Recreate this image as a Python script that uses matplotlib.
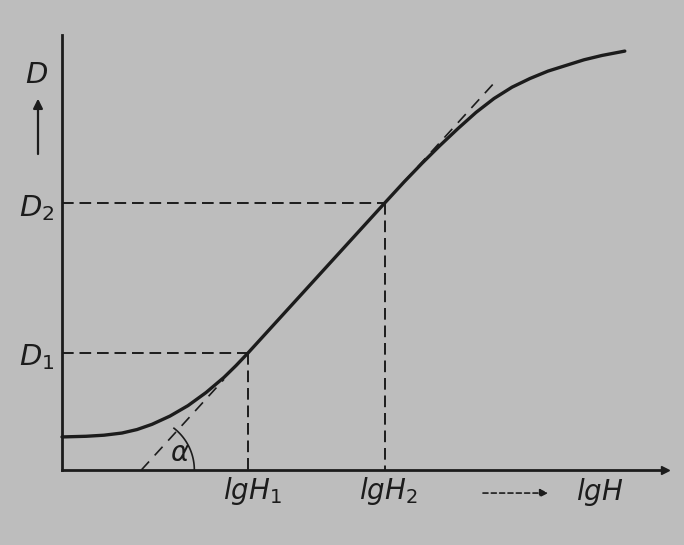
import numpy as np
import matplotlib
matplotlib.use("Agg")
import matplotlib.pyplot as plt

# ---- data (arbitrary units: lg H on x, density D on y) ----
curve_x = [0, 4, 7, 10, 12.5, 15, 18, 21, 24, 27, 29, 31.0,
           53.8, 57, 60, 63, 66, 69, 72, 75, 78, 81, 84, 87, 90, 93.8]
curve_y = [7.6, 7.75, 8.0, 8.5, 9.3, 10.5, 12.4, 14.8, 17.8, 21.3, 24.0, 26.9,
           61.4, 66.2, 70.5, 74.6, 78.5, 82.2, 85.4, 88.0, 90.0, 91.7, 93.0, 94.3, 95.3, 96.3]
lgH1, D1 = 31.0, 26.9
lgH2, D2 = 53.8, 61.4
tangent_x_lo = [13.2, 27.0]
tangent_x_hi = [57.0, 72.2]
x_max, y_max = 100.5, 100.0

BG = "#bdbdbd"
INK = "#1c1c1c"

fig = plt.figure(figsize=(6.84, 5.45), dpi=100, facecolor=BG)
ax = fig.add_axes([62/684, 75/545, (665-62)/684, (470-35)/545])
ax.set_facecolor(BG)
ax.set_xlim(0, x_max)
ax.set_ylim(0, y_max)
for s in ("top", "right"):
    ax.spines[s].set_visible(False)
for s in ("left", "bottom"):
    ax.spines[s].set_linewidth(2.0)
    ax.spines[s].set_color(INK)
ax.set_xticks([])
ax.set_yticks([])

# main curve
ax.plot(curve_x, curve_y, color=INK, lw=2.4, solid_capstyle="round",
        solid_joinstyle="round", clip_on=False)

# tangent extensions (line through D1, D2)
slope = (D2 - D1) / (lgH2 - lgH1)
def tline(xs):
    xs = np.array(xs)
    return xs, D1 + slope * (xs - lgH1)
for xs in (tangent_x_lo, tangent_x_hi):
    tx, ty = tline(xs)
    ax.plot(tx, ty, color=INK, lw=1.2, linestyle=(0, (7, 5)))

# dashed guide lines
dash = (0, (6, 3))
ax.plot([0, lgH1], [D1, D1], color=INK, lw=1.4, linestyle=dash)
ax.plot([lgH1, lgH1], [D1, 0], color=INK, lw=1.4, linestyle=dash)
ax.plot([0, lgH2], [D2, D2], color=INK, lw=1.4, linestyle=dash)
ax.plot([lgH2, lgH2], [D2, 0], color=INK, lw=1.4, linestyle=dash)

# angle arc alpha (drawn in pixel-proportional units)
x0 = lgH1 - D1 / slope
r_px = 53
t = np.deg2rad(np.linspace(0, 52, 60))
ax.plot(x0 + r_px / 6.0 * np.cos(t), r_px / 4.35 * np.sin(t), color=INK, lw=1.2)
ax.text(x0 + 6.5, 4.0, r"$\alpha$", fontsize=20, color=INK, ha="center", va="center")

# x-axis arrowhead
ax.plot([x_max], [0], marker=">", markersize=6, color=INK, clip_on=False)

# labels
kw = dict(color=INK, ha="center", va="center", clip_on=False)
ax.text(-4.2, 90.8, r"$D$", fontsize=21, **kw)
ax.annotate("", xy=(-4.0, 86), xytext=(-4.0, 72), annotation_clip=False,
            arrowprops=dict(arrowstyle="-|>", color=INK, lw=1.6, mutation_scale=14))
ax.text(-4.2, 60.2, r"$D_2$", fontsize=21, **kw)
ax.text(-4.2, 26.0, r"$D_1$", fontsize=21, **kw)
ax.text(lgH1 + 0.7, -4.8, r"$lgH_1$", fontsize=20, **kw)
ax.text(lgH2 + 0.5, -4.8, r"$lgH_2$", fontsize=20, **kw)
ax.text(89.7, -5.1, r"$lgH$", fontsize=20, **kw)
ax.annotate("", xy=(81.5, -5.3), xytext=(69.7, -5.3), annotation_clip=False,
            arrowprops=dict(arrowstyle="-|>", color=INK, lw=1.2, linestyle=(0, (3, 2)),
                            mutation_scale=12))

fig.savefig("out.png", dpi=100, facecolor=BG)
